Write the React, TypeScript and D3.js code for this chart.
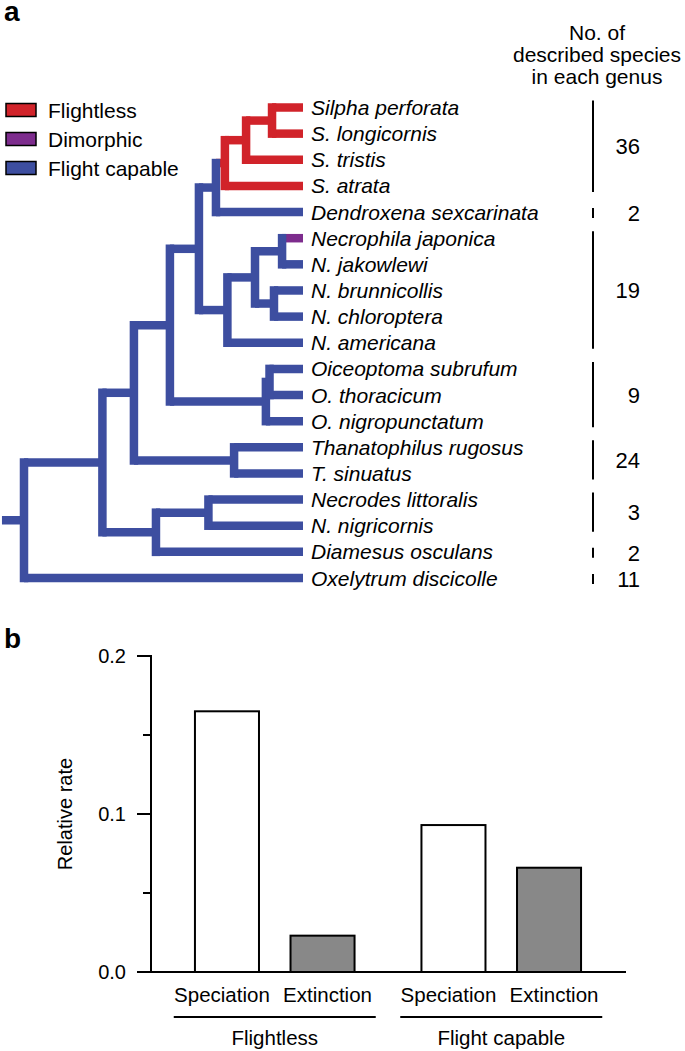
import React from "react";
import * as d3 from "d3";

// ---------- Panel a data ----------
const species = [
  "Silpha perforata",
  "S. longicornis",
  "S. tristis",
  "S. atrata",
  "Dendroxena sexcarinata",
  "Necrophila japonica",
  "N. jakowlewi",
  "N. brunnicollis",
  "N. chloroptera",
  "N. americana",
  "Oiceoptoma subrufum",
  "O. thoracicum",
  "O. nigropunctatum",
  "Thanatophilus rugosus",
  "T. sinuatus",
  "Necrodes littoralis",
  "N. nigricornis",
  "Diamesus osculans",
  "Oxelytrum discicolle",
];
const traits = [
  "Flightless", "Flightless", "Flightless", "Flightless",
  "Flight capable", "Dimorphic", "Flight capable", "Flight capable",
  "Flight capable", "Flight capable", "Flight capable", "Flight capable",
  "Flight capable", "Flight capable", "Flight capable", "Flight capable",
  "Flight capable", "Flight capable", "Flight capable",
];
const traitNames = ["Flightless", "Dimorphic", "Flight capable"];
const traitColors = ["#D1232A", "#7D2C8D", "#3D4EA0"];

type TNode = { depth: number; children: (TNode | number)[] };
const n = (depth: number, ...children: (TNode | number)[]): TNode => ({ depth, children });
// node depths (relative time, root = 0, tips = 100)
const tree = n(0,
  n(28.1,
    n(39.4,
      n(52.3,
        n(62.7,
          n(68.8, n(72.0, n(79.6, n(88.9, 0, 1), 2), 3), 4),
          n(72.9, n(82.8, n(92.5, 5, 6), n(89.6, 7, 8)), 9)),
        n(86.7, n(88.0, 10, 11), 12)),
      n(75.3, 13, 14)),
    n(47.3, n(66.1, 15, 16), 17)),
  18);
const rootEdge = 7.9;
const tipDepth = 100;

const genusFirst = [0, 4, 5, 10, 13, 15, 17, 18];
const genusLast = [3, 4, 9, 12, 14, 16, 17, 18];
const genusCount = [36, 2, 19, 9, 24, 3, 2, 11];
const headerLines = ["No. of", "described species", "in each genus"];

// ---------- Panel b data ----------
const groups = ["Flightless", "Flight capable"];
const rateTypes = ["Speciation", "Extinction"];
const rateValues = [
  [0.165, 0.023],
  [0.093, 0.066],
];
const rateFills = ["#ffffff", "#888888"];
const yTicksMajor = [0, 0.1, 0.2];
const yTicksMinor = [0.05, 0.15];

const FONT = "'Liberation Sans', Arial, Helvetica, sans-serif";

type Laid = { x: number; y: number; color: string; leaves: number[]; kids: Laid[] };

export default function App() {
  const W = 685, H = 1051;
  const xT = d3.scaleLinear().domain([0, tipDepth]).range([24, 303]);
  const yLeaf = d3.scaleLinear().domain([0, species.length - 1]).range([107.5, 578]);
  const colorOf = (t: string) => traitColors[traitNames.indexOf(t)];
  const lw = 8.5;

  const layout = (node: TNode | number): Laid => {
    if (typeof node === "number") {
      return { x: xT(tipDepth), y: yLeaf(node), color: colorOf(traits[node]), leaves: [node], kids: [] };
    }
    const kids = node.children.map(layout);
    const leaves = kids.flatMap((k) => k.leaves);
    const allFlightless = leaves.every((l) => traits[l] === "Flightless");
    return {
      x: xT(node.depth),
      y: (kids[0].y + kids[kids.length - 1].y) / 2,
      color: allFlightless ? colorOf("Flightless") : colorOf("Flight capable"),
      leaves,
      kids,
    };
  };
  const root = layout(tree);

  const hSegs: { x1: number; x2: number; y: number; c: string }[] = [];
  const vSegs: { x: number; y1: number; y2: number; c: string }[] = [];
  hSegs.push({ x1: xT(-rootEdge), x2: root.x, y: root.y, c: root.color });
  const walk = (nd: Laid) => {
    if (nd.kids.length) {
      vSegs.push({ x: nd.x, y1: nd.kids[0].y, y2: nd.kids[nd.kids.length - 1].y, c: nd.color });
      nd.kids.forEach((k) => {
        hSegs.push({ x1: nd.x, x2: k.x, y: k.y, c: k.color });
        walk(k);
      });
    }
  };
  walk(root);

  // Panel b scales
  const y = d3.scaleLinear().domain([0, 0.2]).range([972, 656]);
  const xg = d3.scaleBand().domain(groups).range([161.5, 614.5]).paddingInner(0).paddingOuter(0);
  const xr = d3.scaleBand().domain(rateTypes).range([0, xg.bandwidth()]).paddingInner(0.33).paddingOuter(0.35);
  const axisX = 151;

  return (
    <svg width={W} height={H} style={{ position: "absolute", left: 0, top: 0, background: "#fff" }} fontFamily={FONT}>
      {/* Panel labels */}
      <text x={4} y={21} fontSize={28} fontWeight="bold">a</text>
      <text x={4} y={648} fontSize={28} fontWeight="bold">b</text>

      {/* Legend */}
      {traitNames.map((t, i) => (
        <g key={t}>
          <rect x={6} y={110 + i * 29 - 6.5} width={30} height={13} fill={traitColors[i]} stroke="#000" strokeWidth={1.5} />
          <text x={48} y={110 + i * 29 + 7.5} fontSize={21}>{t}</text>
        </g>
      ))}

      {/* Tree */}
      {hSegs.map((s, i) => (
        <line key={"h" + i} x1={s.x1} x2={s.x2} y1={s.y} y2={s.y} stroke={s.c} strokeWidth={lw} strokeLinecap="butt" />
      ))}
      {vSegs.map((s, i) => (
        <line key={"v" + i} x1={s.x} x2={s.x} y1={s.y1} y2={s.y2} stroke={s.c} strokeWidth={lw} strokeLinecap="square" />
      ))}
      {species.map((s, i) => (
        <text key={s} x={xT(tipDepth) + 8} y={yLeaf(i) + 7.5} fontSize={21} fontStyle="italic">{s}</text>
      ))}

      {/* Genus counts */}
      {headerLines.map((l, i) => (
        <text key={l} x={597} y={40 + i * 22} fontSize={21} textAnchor="middle">{l}</text>
      ))}
      {genusCount.map((c, i) => {
        const single = genusFirst[i] === genusLast[i];
        const y1 = yLeaf(genusFirst[i]) - (single ? 4 : 7);
        const y2 = yLeaf(genusLast[i]) + 6;
        return (
          <g key={i}>
            <line x1={593} x2={593} y1={y1} y2={y2} stroke="#000" strokeWidth={2} />
            <text x={640} y={(y1 + y2) / 2 + 8} fontSize={22} textAnchor="end">{c}</text>
          </g>
        );
      })}

      {/* Panel b */}
      {groups.map((g, gi) =>
        rateTypes.map((r, ri) => {
          const v = rateValues[gi][ri];
          const x0 = (xg(g) as number) + (xr(r) as number);
          return (
            <rect key={g + r} x={x0} y={y(v)} width={xr.bandwidth()} height={y(0) - y(v)}
              fill={rateFills[ri]} stroke="#000" strokeWidth={2} />
          );
        })
      )}
      <line x1={axisX} x2={axisX} y1={y(0.2) - 1} y2={y(0)} stroke="#000" strokeWidth={2} />
      <line x1={axisX - 1} x2={626} y1={y(0)} y2={y(0)} stroke="#000" strokeWidth={2} />
      {yTicksMajor.map((t) => (
        <g key={t}>
          <line x1={axisX - 14} x2={axisX} y1={y(t)} y2={y(t)} stroke="#000" strokeWidth={2} />
          <text x={126} y={y(t) + 7} fontSize={20} textAnchor="end">{d3.format(".1f")(t)}</text>
        </g>
      ))}
      {yTicksMinor.map((t) => (
        <line key={t} x1={axisX - 8} x2={axisX} y1={y(t)} y2={y(t)} stroke="#000" strokeWidth={2} />
      ))}
      <text transform={`translate(72, ${y(0.1)}) rotate(-90)`} fontSize={20} textAnchor="middle">Relative rate</text>

      {groups.map((g, gi) => {
        const gx = xg(g) as number;
        const cx = gx + xg.bandwidth() / 2;
        return (
          <g key={g}>
            {rateTypes.map((r, ri) => (
              <text key={r} x={gx + (xr(r) as number) + xr.bandwidth() / 2 + (ri === 0 ? -5 : 5)} y={1002}
                fontSize={20.5} textAnchor="middle">{r}</text>
            ))}
            <line x1={cx - 101} x2={cx + 101} y1={1017} y2={1017} stroke="#000" strokeWidth={2} />
            <text x={cx} y={1045} fontSize={20.5} textAnchor="middle">{g}</text>
          </g>
        );
      })}
    </svg>
  );
}
